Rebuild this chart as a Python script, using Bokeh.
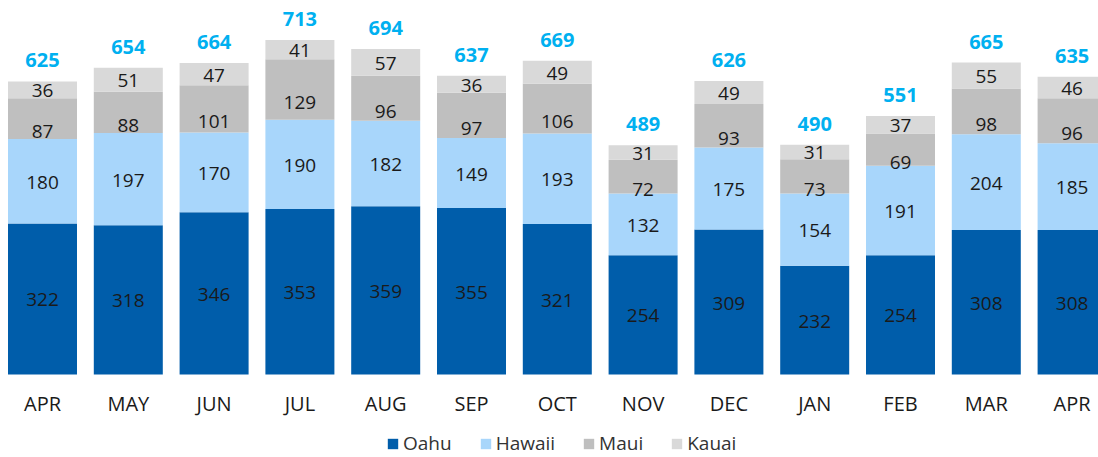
from bokeh.plotting import figure
from bokeh.models import ColumnDataSource, Range1d, Legend, LegendItem, FixedTicker
from bokeh.core.properties import value
from bokeh.embed import file_html
from bokeh.resources import INLINE

months = ["APR", "MAY", "JUN", "JUL", "AUG", "SEP", "OCT", "NOV", "DEC", "JAN", "FEB", "MAR", "APR"]
oahu = [322, 318, 346, 353, 359, 355, 321, 254, 309, 232, 254, 308, 308]
hawaii = [180, 197, 170, 190, 182, 149, 193, 132, 175, 154, 191, 204, 185]
maui = [87, 88, 101, 129, 96, 97, 106, 72, 93, 73, 69, 98, 96]
kauai = [36, 51, 47, 41, 57, 36, 49, 31, 49, 31, 37, 55, 46]
totals = [625, 654, 664, 713, 694, 637, 669, 489, 626, 490, 551, 665, 635]

series = [("Oahu", oahu, "#005DAA"), ("Hawaii", hawaii, "#A8D6FB"),
          ("Maui", maui, "#BFBFBF"), ("Kauai", kauai, "#D9D9D9")]

FONT = "Open Sans"
W, H = 1098, 457
BASE = 374
PX_PER_UNIT = 0.469
SPACING = 85.8

x = list(range(len(months)))
xs = -42 / SPACING
p = figure(width=W, height=H, output_backend="svg", toolbar_location=None,
           x_range=Range1d(xs, xs + W / SPACING),
           y_range=Range1d(-(H - BASE) / PX_PER_UNIT, BASE / PX_PER_UNIT),
           y_axis_location=None, min_border_left=0, min_border_right=0,
           min_border_top=0, min_border_bottom=0)
p.outline_line_color = None
p.grid.visible = False
p.background_fill_color = "white"
p.border_fill_color = "white"

bottom = [0] * len(months)
items = []
for name, vals, color in series:
    top = [b + v for b, v in zip(bottom, vals)]
    src = ColumnDataSource(dict(x=x, bottom=bottom, top=top,
                                ymid=[(b + t) / 2 for b, t in zip(bottom, top)],
                                lab=[str(v) for v in vals]))
    r = p.vbar(x="x", width=69 / SPACING, bottom="bottom", top="top", source=src,
               fill_color=color, line_color=None)
    items.append(LegendItem(label=name, renderers=[r]))
    p.text(x="x", y="ymid", text="lab", source=src, text_align="center",
           text_baseline="middle", text_font=value(FONT), text_font_size="19px",
           text_color="#1a1a1a", y_offset=13 if name == "Maui" else 1)
    bottom = top

tsrc = ColumnDataSource(dict(x=x, y=totals, lab=[str(t) for t in totals]))
p.text(x="x", y="y", text="lab", source=tsrc, text_align="center",
       text_baseline="middle", text_font=value(FONT), text_font_size="20px",
       text_font_style="bold", text_color="#00B0F0", y_offset=-21)

ax = p.xaxis[0]
ax.fixed_location = 0
ax.ticker = FixedTicker(ticks=x)
ax.major_label_overrides = {i: m for i, m in enumerate(months)}
ax.axis_line_color = None
ax.major_tick_line_color = None
ax.minor_tick_line_color = None
ax.major_tick_out = 0
ax.major_tick_in = 0
ax.minor_tick_out = 0
ax.major_label_text_font = FONT
ax.major_label_text_font_size = "20px"
ax.major_label_text_color = "#1a1a1a"
ax.major_label_standoff = 15

legend = Legend(items=items, orientation="horizontal", location=(386, 1),
                label_text_font=FONT, label_text_font_size="19px",
                label_text_color="#333333", glyph_width=13, glyph_height=13,
                label_standoff=4, spacing=27, padding=0, margin=0,
                border_line_color=None, background_fill_alpha=0)
p.add_layout(legend, "center")

open("out.html", "w").write(file_html(p, INLINE))
